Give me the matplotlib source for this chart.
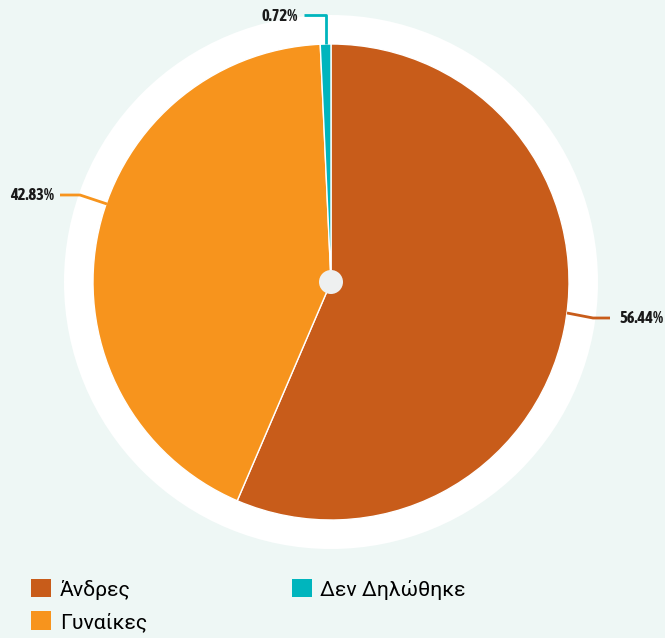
import matplotlib.pyplot as plt
from matplotlib.patches import Circle, Patch
import numpy as np

labels = ["Άνδρες", "Γυναίκες", "Δεν Δηλώθηκε"]
values = [56.44, 42.83, 0.72]
colors = ["#C85C1A", "#F7941D", "#00B5BD"]
pct_labels = ["56.44%", "42.83%", "0.72%"]

BG = "#EEF7F5"
W, H = 665, 638
cx, cy, R = 331, H - 282, 238

# leader lines in pixels from top-left: edge point, bend, end, text anchor
leaders = [
    [(567, 313), (593, 318), (610, 318), (619, 318, "left")],
    [(107, 204), (80, 195), (60, 195), (54, 195, "right")],
    [(326, 44), (326, 15), (304, 15), (298, 16, "right")],
]

fig = plt.figure(figsize=(W / 100, H / 100), dpi=100, facecolor=BG)
ax = fig.add_axes([0, 0, 1, 1])

# white ring behind the pie
ax.add_patch(Circle((cx, cy), 267, facecolor="white", edgecolor="none", zorder=0))

wedges, _ = ax.pie(values, colors=colors, startangle=90, counterclock=False,
                   center=(cx, cy), radius=R, frame=True,
                   wedgeprops=dict(edgecolor="white", linewidth=1))
ax.set_xlim(0, W)
ax.set_ylim(0, H)
ax.set_aspect("equal")
ax.axis("off")

ax.add_patch(Circle((cx, cy), 12, facecolor="#EEF0F0", edgecolor="none", zorder=5))

label_font = dict(family=["Asap Condensed", "DejaVu Sans"],
                  fontweight="bold", fontsize=11.8, color="#1a1a1a")

for txt, col, ld in zip(pct_labels, colors, leaders):
    xs = [p[0] for p in ld[:3]]
    ys = [H - p[1] for p in ld[:3]]
    ax.plot(xs, ys, color=col, lw=2, solid_capstyle="butt", zorder=3)
    tx, ty, ha = ld[3]
    ax.text(tx, H - ty, txt, ha=ha, va="center", **label_font)

handles = [Patch(facecolor=c, edgecolor="none") for c in colors]
fig.legend(handles, labels, loc="upper left", bbox_to_anchor=(12 / W, 1 - 560 / H),
           ncol=2, frameon=False, handlelength=0.95, handleheight=0.95,
           handletextpad=0.4, columnspacing=6.8, labelspacing=0.55,
           prop=dict(family=["Roboto", "DejaVu Sans"], size=15.3))

fig.savefig("out.png", dpi=100, facecolor=BG)
